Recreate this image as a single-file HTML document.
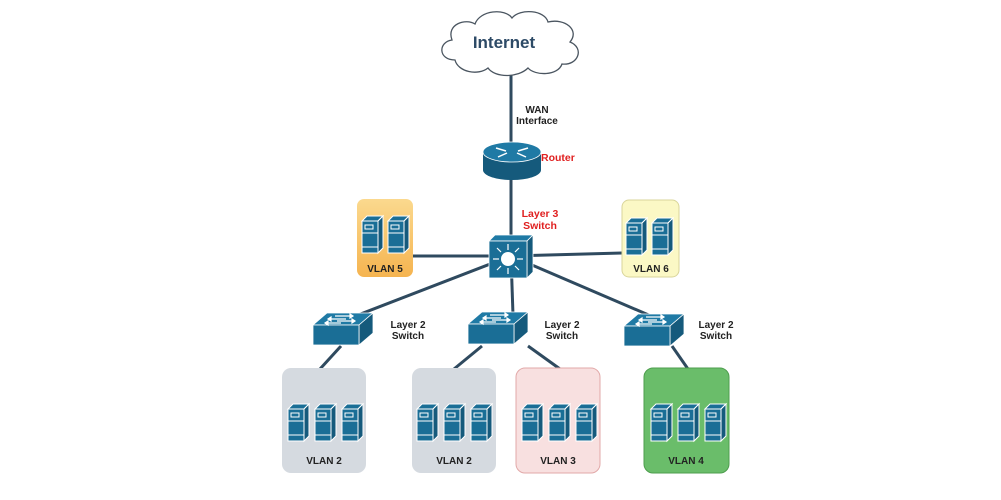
<!DOCTYPE html>
<html><head><meta charset="utf-8"><style>
html,body{margin:0;padding:0;background:#fff;}
svg{display:block;font-family:"Liberation Sans",sans-serif;font-weight:bold;}
</style></head><body>
<svg width="1001" height="500" viewBox="0 0 1001 500" xmlns="http://www.w3.org/2000/svg">
<defs>
<linearGradient id="og" x1="0" y1="0" x2="0" y2="1"><stop offset="0" stop-color="#fbd98e"/><stop offset="1" stop-color="#f5b450"/></linearGradient>
<g id="srv">
  <path d="M0,5 L5,0 L21,0 L16,5 Z" fill="#1a6e96" stroke="#fff" stroke-width="1"/>
  <path d="M16,5 L21,0 L21,32 L16,37 Z" fill="#155a7c" stroke="#fff" stroke-width="1"/>
  <rect x="0" y="5" width="16" height="32" fill="#1a6e96" stroke="#fff" stroke-width="1"/>
  <rect x="3" y="9" width="8" height="4" fill="none" stroke="#fff" stroke-width="1"/>
  <line x1="0" y1="17" x2="16" y2="17" stroke="#fff" stroke-width="1"/>
  <line x1="0" y1="31" x2="16" y2="31" stroke="#fff" stroke-width="1"/>
</g>
<g id="l2">
  <path d="M0,12 L14,0 L60,0 L46,12 Z" fill="#1f7aa5" stroke="#fff" stroke-width="0.8"/>
  <path d="M46,12 L60,0 L60,20 L46,32 Z" fill="#155a7c" stroke="#fff" stroke-width="0.8"/>
  <rect x="0" y="12" width="46" height="20" fill="#1a6e96" stroke="#fff" stroke-width="0.8"/>
  <g stroke="#fff" stroke-width="1.2" fill="#fff">
    <line x1="22" y1="3" x2="40" y2="3"/><path d="M40,3 l-3,-2 v4z"/>
    <line x1="15" y1="6" x2="33" y2="6"/><path d="M15,6 l3,-2 v4z"/>
    <line x1="24" y1="8" x2="42" y2="8"/><path d="M42,8 l-3,-2 v4z"/>
    <line x1="12" y1="10" x2="28" y2="10"/><path d="M12,10 l3,-2 v4z"/>
  </g>
</g>
</defs>

<!-- lines -->
<g stroke="#2f4a5f" stroke-width="3" fill="none">
  <line x1="511" y1="75" x2="511" y2="145"/>
  <line x1="511" y1="175" x2="511" y2="240"/>
  <line x1="511" y1="256" x2="413" y2="256"/>
  <line x1="511" y1="256" x2="622" y2="253"/>
  <line x1="511" y1="256" x2="345" y2="320"/>
  <line x1="511" y1="256" x2="513" y2="315"/>
  <line x1="511" y1="256" x2="665" y2="322"/>
  <line x1="341" y1="346" x2="320" y2="369"/>
  <line x1="482" y1="346" x2="454" y2="369"/>
  <line x1="528" y1="346" x2="560" y2="369"/>
  <line x1="672" y1="346" x2="688" y2="369"/>
</g>

<!-- cloud -->
<path d="M455,60 C438,60 438,42 452,40 C446,24 466,18 475,24 C480,10 505,8 512,18 C520,8 545,10 548,22 C565,18 580,30 570,42 C585,48 578,66 562,64 C558,76 535,76 528,68 C518,78 495,78 488,68 C478,76 458,72 455,60 Z" fill="#fff" stroke="#4a5560" stroke-width="1.3"/>
<text x="504" y="48" font-size="17" fill="#2d4a66" text-anchor="middle">Internet</text>

<text x="537" y="113" font-size="10" fill="#222" text-anchor="middle">WAN</text>
<text x="537" y="124" font-size="10" fill="#222" text-anchor="middle">Interface</text>

<!-- router -->
<path d="M483,152 L483,170 A29,10 0 0 0 541,170 L541,152 Z" fill="#155a7c"/>
<ellipse cx="512" cy="152" rx="29" ry="10" fill="#1f7aa5" stroke="#fff" stroke-width="0.8"/>
<g stroke="#fff" stroke-width="1.5" fill="#fff">
  <line x1="496" y1="148" x2="506" y2="151"/><line x1="528" y1="148" x2="518" y2="151"/>
  <line x1="498" y1="157" x2="507" y2="153"/><line x1="526" y1="157" x2="517" y2="153"/>
</g>
<text x="541" y="161" font-size="10.5" fill="#e02020">Router</text>

<text x="540" y="217" font-size="10.5" fill="#e02020" text-anchor="middle">Layer 3</text>
<text x="540" y="229" font-size="10.5" fill="#e02020" text-anchor="middle">Switch</text>

<!-- L3 switch -->
<path d="M489,241 L495,235 L533,235 L527,241 Z" fill="#1f7aa5" stroke="#fff" stroke-width="0.8"/>
<path d="M527,241 L533,235 L533,272 L527,278 Z" fill="#155a7c" stroke="#fff" stroke-width="0.8"/>
<rect x="489" y="241" width="38" height="37" fill="#1a6e96" stroke="#fff" stroke-width="0.8"/>
<circle cx="508" cy="259" r="7" fill="#fff"/>
<g stroke="#fff" stroke-width="1.2">
  <line x1="508" y1="244" x2="508" y2="250"/><line x1="508" y1="268" x2="508" y2="274"/>
  <line x1="493" y1="259" x2="499" y2="259"/><line x1="517" y1="259" x2="523" y2="259"/>
  <line x1="497" y1="248" x2="501" y2="252"/><line x1="519" y1="248" x2="515" y2="252"/>
  <line x1="497" y1="270" x2="501" y2="266"/><line x1="519" y1="270" x2="515" y2="266"/>
</g>

<!-- VLAN 5 / 6 -->
<rect x="357" y="199" width="56" height="78" rx="7" fill="url(#og)"/>
<use href="#srv" x="362" y="216"/><use href="#srv" x="388" y="216"/>
<text x="385" y="272" font-size="10" fill="#222" text-anchor="middle">VLAN 5</text>
<rect x="622" y="200" width="57" height="77" rx="7" fill="#fbf8c5" stroke="#d9d59a" stroke-width="1"/>
<use href="#srv" x="626" y="218"/><use href="#srv" x="652" y="218"/>
<text x="651" y="272" font-size="10" fill="#222" text-anchor="middle">VLAN 6</text>

<!-- L2 switches -->
<use href="#l2" x="313" y="313"/>
<use href="#l2" x="468" y="312"/>
<use href="#l2" x="624" y="314"/>
<g font-size="10" fill="#222" text-anchor="middle">
<text x="408" y="328">Layer 2</text><text x="408" y="339">Switch</text>
<text x="562" y="328">Layer 2</text><text x="562" y="339">Switch</text>
<text x="716" y="328">Layer 2</text><text x="716" y="339">Switch</text>
</g>

<!-- bottom VLANs -->
<rect x="282" y="368" width="84" height="105" rx="9" fill="#d5dae0"/>
<rect x="412" y="368" width="84" height="105" rx="9" fill="#d5dae0"/>
<rect x="516" y="368" width="84" height="105" rx="9" fill="#f8e0e0" stroke="#e2a9a9" stroke-width="1"/>
<rect x="644" y="368" width="85" height="105" rx="9" fill="#6abd6a" stroke="#4e9e4e" stroke-width="1"/>
<use href="#srv" x="288" y="404"/><use href="#srv" x="315" y="404"/><use href="#srv" x="342" y="404"/>
<use href="#srv" x="417" y="404"/><use href="#srv" x="444" y="404"/><use href="#srv" x="471" y="404"/>
<use href="#srv" x="522" y="404"/><use href="#srv" x="549" y="404"/><use href="#srv" x="576" y="404"/>
<use href="#srv" x="651" y="404"/><use href="#srv" x="678" y="404"/><use href="#srv" x="705" y="404"/>
<g font-size="10" fill="#222" text-anchor="middle">
<text x="324" y="464">VLAN 2</text>
<text x="454" y="464">VLAN 2</text>
<text x="558" y="464">VLAN 3</text>
<text x="686" y="464">VLAN 4</text>
</g>
</svg>
</body></html>
